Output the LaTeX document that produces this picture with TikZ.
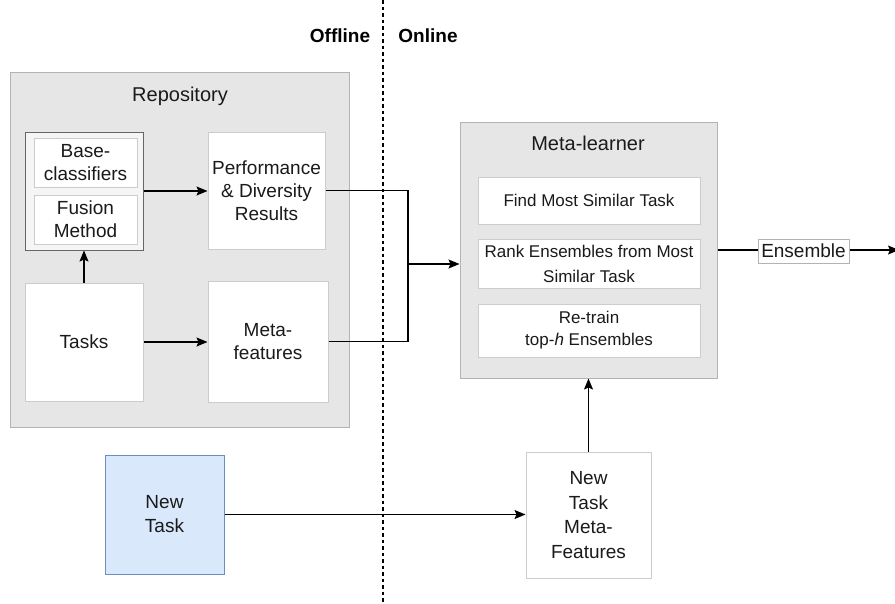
\documentclass[tikz,border=0pt]{standalone}
\usepackage{fontspec}
\setmainfont{Liberation Sans}
\usetikzlibrary{arrows.meta}
\definecolor{panelfill}{HTML}{E6E6E6}
\definecolor{panelline}{HTML}{B3B3B3}
\definecolor{boxline}{HTML}{CCCCCC}
\definecolor{groupline}{HTML}{666666}
\definecolor{groupfill}{HTML}{F5F5F5}
\definecolor{taskfill}{HTML}{DAE8FC}
\definecolor{taskline}{HTML}{6C8EBF}
\definecolor{ink}{HTML}{1A1A1A}
\tikzset{
  panel/.style={draw=panelline, fill=panelfill, line width=1pt, rectangle, inner sep=0pt},
  card/.style={draw=boxline, fill=white, line width=1pt, rectangle, align=center, inner sep=0pt,
    text=ink, font=\fontsize{19}{23}\selectfont},
  smallcard/.style={card, font=\fontsize{17}{23}\selectfont},
  title/.style={text=ink, font=\fontsize{20}{24}\selectfont},
  link/.style={draw=black, line width=1.3pt},
  arrow/.style={link, -{Stealth[length=11pt,width=9pt,inset=2pt]}}
}
\begin{document}
\begin{tikzpicture}[x=1pt,y=-1pt]
\useasboundingbox (0,0) rectangle (895,603);
\clip (0,0) rectangle (895,603);

% separator between offline and online phases
\draw[black, line width=1.2pt, dash pattern=on 3.5pt off 3pt] (383,0) -- (383,603);
\node[font=\bfseries\fontsize{19}{22}\selectfont] (offline) at (340,36) {Offline};
\node[font=\bfseries\fontsize{19}{22}\selectfont] (online) at (428,36) {Online};

% repository (offline)
\node[panel, minimum width=339pt, minimum height=355pt] (repo) at (179.5,249.5) {};
\node[title] (repotitle) at (180,96) {Repository};
\node[draw=groupline, fill=groupfill, line width=1pt, inner sep=0pt,
      minimum width=118pt, minimum height=118pt] (group) at (84,191) {};
\node[card, minimum width=103pt, minimum height=49pt] (base) at (85.5,162.5) {Base-\\classifiers};
\node[card, minimum width=103pt, minimum height=49pt] (fusion) at (85.5,219.5) {Fusion\\Method};
\node[card, minimum width=117pt, minimum height=117pt] (perf) at (266.5,190.5) {Performance\\\& Diversity\\Results};
\node[card, minimum width=118pt, minimum height=118pt] (tasks) at (84,342) {Tasks};
\node[card, minimum width=120pt, minimum height=121pt] (mf) at (268,341.5) {Meta-\\features};

% meta-learner (online)
\node[panel, minimum width=257pt, minimum height=256pt] (meta) at (588.5,250) {};
\node[title] (metatitle) at (588,143) {Meta-learner};
\node[smallcard, minimum width=222pt, minimum height=47pt] (find) at (589,200.5) {Find Most Similar Task};
\node[smallcard, minimum width=222pt, minimum height=49pt, font=\fontsize{17}{25}\selectfont] (rank) at (589,263.5) {Rank Ensembles from Most\\Similar Task};
\node[smallcard, minimum width=222pt, minimum height=53pt, font=\fontsize{17}{22}\selectfont] (retrain) at (589,330.5) {Re-train\\top-\textit{h} Ensembles};

% output
\node[draw=panelline, fill=white, line width=1pt, inner sep=0pt, text=ink,
      font=\fontsize{19}{22}\selectfont, minimum width=91pt, minimum height=24pt] (ens) at (803.5,251) {Ensemble};
\coordinate (out) at (899,250);

% new task
\node[card, draw=taskline, fill=taskfill, minimum width=119pt, minimum height=119pt,
      font=\fontsize{19}{24}\selectfont] (newtask) at (164.5,514.5) {New\\Task};
\node[card, minimum width=125pt, minimum height=126pt, font=\fontsize{19}{24.5}\selectfont] (ntmf) at (588.5,515) {New\\Task\\Meta-\\Features};

% connectors
\draw[arrow] (tasks.north) -- (group.south);
\draw[arrow] (group.east) -- (group.east -| perf.west);
\draw[arrow] (tasks.east) -- (tasks.east -| mf.west);
\coordinate (join) at (408,264);
\draw[link] (perf.east) -| (join);
\draw[link] (mf.east) -| (join);
\draw[arrow] (join) -- (join -| meta.west);
\draw[arrow] (newtask.east) -- (newtask.east -| ntmf.west);
\draw[arrow] (ntmf.north) -- (ntmf.north |- meta.south);
\draw[link] (meta.east) -- (meta.east -| ens.west);
\draw[arrow] (ens.east |- meta.east) -- (out);
\end{tikzpicture}
\end{document}
